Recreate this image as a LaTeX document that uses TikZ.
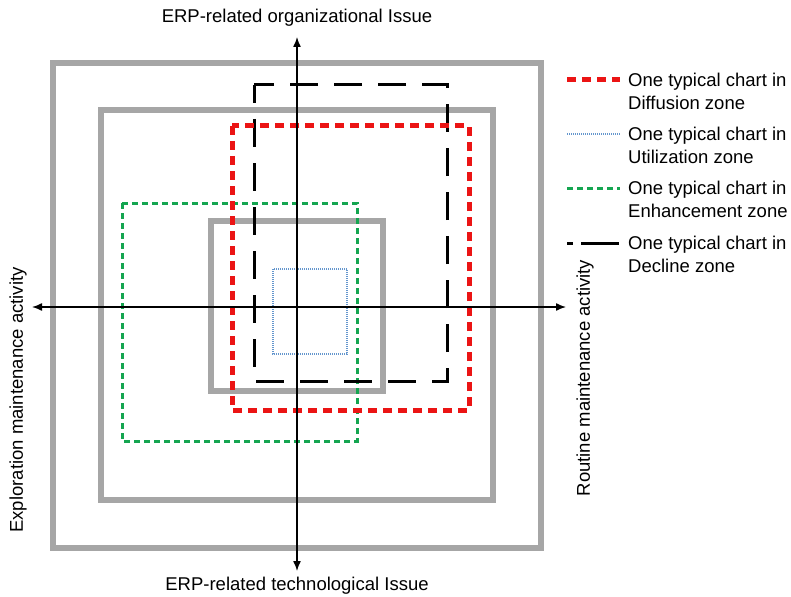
\documentclass[tikz,border=0pt]{standalone}
\usepackage{fontspec}
\setmainfont{Liberation Sans}
\usetikzlibrary{arrows.meta}
\definecolor{zonegray}{RGB}{166,166,166}
\definecolor{zonered}{RGB}{235,20,20}
\definecolor{zonegreen}{RGB}{20,165,80}
\definecolor{zoneblue}{RGB}{100,150,205}
\begin{document}
\begin{tikzpicture}[x=1pt, y=-1pt,
    every node/.style={font=\fontsize{18.5}{23}\selectfont, inner sep=0pt},
    frame/.style={draw=zonegray, line width=6pt},
    diffusion/.style={draw=zonered, line width=5pt, dash pattern=on 9pt off 6pt},
    utilization/.style={draw=zoneblue, line width=1.2pt, dash pattern=on 1pt off 1pt},
    enhancement/.style={draw=zonegreen, line width=3pt, dash pattern=on 6pt off 4pt},
    decline/.style={draw=black, line width=3pt, dash pattern=on 28pt off 16pt},
    axis/.style={draw=black, line width=1.4pt, {Latex[length=10pt,width=8pt]}-{Latex[length=10pt,width=8pt]}},
    legtext/.style={anchor=west, align=left}]
    \useasboundingbox (0,0) rectangle (791,596);
    % grey frames
    \draw[frame] (53,63) rectangle (541,548);
    \draw[frame] (101,110) rectangle (493,500);
    \draw[frame] (211,221) rectangle (383,391);
    % typical charts
    \draw[enhancement] (122,203) rectangle (357,441);
    \draw[decline, dash phase=10pt] (254,85) rectangle (447,381);
    \draw[diffusion] (232,126) rectangle (469,410);
    \draw[utilization] (273,269) rectangle (347,354);
    % axes
    \coordinate (t) at (297,37);
    \coordinate (b) at (297,571);
    \coordinate (l) at (32,307);
    \coordinate (r) at (566,307);
    \draw[axis] (b) -- (t);
    \draw[axis] (l) -- (r);
    \node (org) at (297,18) {ERP-related organizational Issue};
    \node (tech) at (297,586) {ERP-related technological Issue};
    \node[rotate=90] (expl) at (18,400) {Exploration maintenance activity};
    \node[rotate=90] (rout) at (585,378) {Routine maintenance activity};
    % legend
    \draw[diffusion] (567,80) -- (620,80);
    \node[legtext] (1) at (628,91.5) {One typical chart in\\Diffusion zone};
    \draw[utilization] (567,134) -- (620,134);
    \node[legtext] (2) at (628,145.5) {One typical chart in\\Utilization zone};
    \draw[enhancement] (567,188) -- (620,188);
    \node[legtext] (3) at (628,199.5) {One typical chart in\\Enhancement zone};
    \draw[decline, dash pattern=on 6pt off 8pt on 32pt off 0pt] (567,243) -- (620,243);
    \node[legtext] (4) at (628,254.5) {One typical chart in\\Decline zone};
\end{tikzpicture}
\end{document}
